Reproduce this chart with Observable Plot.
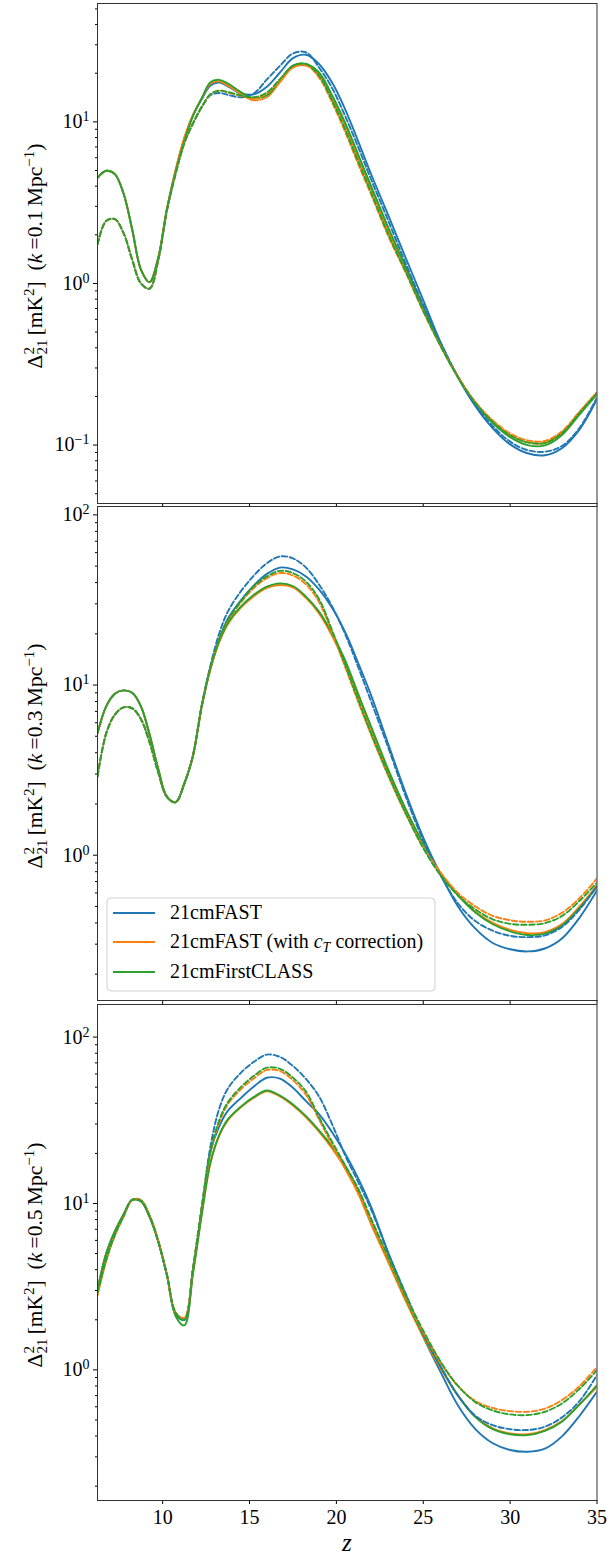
<!DOCTYPE html>
<html>
<head>
<meta charset="utf-8">
<script src="https://cdn.jsdelivr.net/npm/d3@7"></script>
<script src="https://cdn.jsdelivr.net/npm/@observablehq/plot@0.6"></script>
<style>
  body { margin: 0; background: white; }
  #chart svg { display: block; overflow: visible; }
</style>
</head>
<body>
<div id="chart"></div>
<script>
// ---- data ----
const z = [6.25,6.75,7.25,7.75,8.25,8.75,9.25,9.75,10.25,10.75,11.25,11.75,12.25,12.75,13.25,13.75,14.5,15.25,16,16.75,17.5,18.25,19,19.75,20.5,21.25,22,23,24,25,26,27,28,29,30,31,32,33,34,35];

const models = ["21cmFAST", "21cmFAST (with c_T correction)", "21cmFirstCLASS"];
const colors = ["#1f77b4", "#ff7f0e", "#2ca02c"];
const kValues = ["0.1", "0.3", "0.5"];
const xTicks = [10, 15, 20, 25, 30, 35];

// panel k = 0.1
const k01_fast_solid  = [4.5,4.98,4.75,3.6,2.15,1.22,1.02,1.45,2.9,5.0,7.9,11.0,13.8,16.8,17.5,16.6,15.0,14.8,16.5,20.2,24.8,26.0,22.8,17.5,12.0,7.6,4.74,2.62,1.43,0.79,0.43,0.262,0.174,0.127,0.101,0.089,0.0865,0.096,0.125,0.192];
const k01_corr_solid  = [4.5,4.98,4.75,3.6,2.15,1.22,1.02,1.45,2.9,5.1,8.0,11.1,14.0,17.2,17.8,16.8,14.9,13.6,14.2,17.6,21.7,22.3,19.5,14.0,9.5,6.0,3.85,2.1,1.2,0.7,0.41,0.264,0.183,0.14,0.115,0.104,0.103,0.12,0.16,0.21];
const k01_class_solid = [4.5,4.98,4.75,3.6,2.15,1.22,1.02,1.45,2.9,4.9,7.6,10.9,14.0,17.6,18.2,17.3,15.3,14.0,14.6,18.1,22.3,22.8,20.2,14.6,9.9,6.3,4.0,2.2,1.26,0.72,0.42,0.265,0.181,0.137,0.112,0.1,0.0995,0.116,0.155,0.206];
const k01_fast_dash   = [1.75,2.44,2.5,2.05,1.4,1.0,0.93,1.4,2.85,4.8,7.4,9.8,12.3,14.6,15.1,14.7,14.2,15.0,18.3,22.2,26.5,26.9,21.7,16.2,10.9,7.0,4.4,2.42,1.32,0.736,0.43,0.265,0.178,0.131,0.105,0.093,0.091,0.099,0.128,0.197];
const k01_corr_dash   = [1.75,2.44,2.5,2.05,1.4,1.0,0.93,1.4,2.85,4.8,7.4,9.8,12.4,14.8,15.6,15.2,14.5,14.0,15.0,18.0,21.8,22.5,18.8,13.2,8.7,5.5,3.55,1.95,1.16,0.67,0.41,0.264,0.185,0.142,0.118,0.107,0.106,0.122,0.161,0.213];
const k01_class_dash  = [1.75,2.44,2.5,2.05,1.4,1.0,0.93,1.4,2.85,4.8,7.4,9.8,12.4,14.8,15.6,15.3,14.6,14.2,15.2,18.4,22.2,22.8,19.3,13.6,9.0,5.7,3.65,2.0,1.18,0.68,0.41,0.262,0.182,0.139,0.115,0.104,0.103,0.119,0.158,0.21];

// panel k = 0.3
const k03_fast_solid  = [5.2,7.5,8.9,9.3,9.0,7.5,5.1,3.2,2.2,2.05,2.64,3.87,7.6,12.6,18.5,24.5,31.5,38.5,45,49,47.8,43.5,36.5,28.5,20.5,13.5,8.7,4.45,2.3,1.27,0.77,0.5,0.37,0.305,0.28,0.272,0.283,0.325,0.43,0.62];
const k03_corr_solid  = [5.2,7.5,8.9,9.3,9.0,7.5,5.1,3.2,2.2,2.05,2.64,3.87,7.5,12.4,17.8,22.8,28.5,33.3,37.2,38.7,37.5,32.5,26.3,19.5,13.5,8.6,5.5,3.05,1.82,1.15,0.78,0.585,0.465,0.4,0.364,0.348,0.353,0.395,0.5,0.665];
const k03_class_solid = [5.2,7.5,8.9,9.3,9.0,7.5,5.1,3.2,2.2,2.05,2.64,3.87,7.5,12.5,18.0,23.1,28.9,33.9,37.9,39.6,38.2,33.1,27.0,20.1,14.0,8.9,5.7,3.16,1.86,1.17,0.78,0.58,0.46,0.393,0.357,0.34,0.346,0.387,0.49,0.65];
const k03_fast_dash   = [2.9,5.2,6.7,7.4,7.3,6.3,4.6,3.05,2.2,2.05,2.64,3.87,7.6,13,20,27,35.5,44,52,57,55.5,49,39,29,20,12.8,8.0,4.25,2.2,1.22,0.76,0.52,0.41,0.36,0.336,0.33,0.338,0.38,0.48,0.66];
const k03_corr_dash   = [2.9,5.2,6.7,7.4,7.3,6.3,4.6,3.05,2.2,2.05,2.64,3.87,7.5,12.5,18.3,23.8,30.5,37.2,42.5,45.5,44,39,30.8,20.3,12.8,8.0,5.1,2.9,1.75,1.12,0.79,0.6,0.5,0.44,0.415,0.406,0.414,0.46,0.56,0.73];
const k03_class_dash  = [2.9,5.2,6.7,7.4,7.3,6.3,4.6,3.05,2.2,2.05,2.64,3.87,7.5,12.6,18.5,24.0,31.0,38.0,43.5,46.9,45.5,40.5,32.0,21.0,13.2,8.2,5.2,2.95,1.75,1.1,0.76,0.58,0.48,0.42,0.395,0.39,0.399,0.44,0.54,0.69];

// panel k = 0.5
const k05_fast_solid  = [3.0,5.0,6.8,8.6,10.5,10.3,8.3,5.9,3.7,2.15,2.0,4.0,9.0,20.5,29.0,36.0,43.0,50.5,57.0,56.3,49.6,41.2,34.4,26.8,20,14.2,9.55,5.0,2.8,1.58,0.97,0.61,0.44,0.362,0.33,0.322,0.336,0.4,0.53,0.74];
const k05_corr_solid  = [3.0,5.0,6.8,8.6,10.5,10.3,8.3,5.9,3.7,2.2,2.05,3.9,8.6,17.5,25.5,31.6,37.8,43.2,47.3,44.0,38.8,33.0,27.0,21.4,16.3,11.5,7.5,4.4,2.58,1.58,1.02,0.70,0.525,0.445,0.415,0.41,0.435,0.495,0.62,0.79];
const k05_class_solid = [3.0,5.0,6.8,8.6,10.5,10.3,8.3,5.9,3.7,2.1,1.85,3.8,8.6,17.6,25.7,32.0,38.2,43.7,47.8,44.5,39.4,33.5,27.5,22.0,16.8,11.9,7.8,4.56,2.66,1.62,1.04,0.70,0.52,0.44,0.41,0.405,0.43,0.49,0.62,0.81];
const k05_fast_dash   = [2.9,4.6,6.5,8.4,10.5,10.4,8.4,5.9,3.7,2.2,2.0,4.1,9.5,22,37,49,61,71,78.5,76,67,56,44,30,19.5,13.5,9.2,5.0,2.85,1.65,1.05,0.7,0.53,0.465,0.44,0.435,0.455,0.52,0.65,0.93];
const k05_corr_dash   = [2.8,4.5,6.4,8.3,10.5,10.5,8.5,6.0,3.7,2.2,2.05,4.1,9.5,20.0,30.5,39.5,48.5,56.5,63.5,62.5,55,45,32,22.5,16.2,11.6,7.8,4.6,2.7,1.68,1.1,0.8,0.65,0.59,0.565,0.56,0.585,0.66,0.8,1.04];
const k05_class_dash  = [2.9,4.6,6.5,8.4,10.5,10.4,8.4,5.9,3.7,2.2,2.0,4.1,9.5,20.5,31.5,40.5,50,58.5,65.5,64.5,57,47,33,23.5,17,12.3,8.1,4.75,2.78,1.72,1.12,0.8,0.64,0.57,0.54,0.535,0.56,0.63,0.77,0.995];

// ---- layout ----
const serif = "'Liberation Serif', 'DejaVu Serif', serif";
const W = 607, ML = 97, MR = 10.5;

const panels = [
  {k: kValues[0], solid: [k01_fast_solid, k01_corr_solid, k01_class_solid], dash: [k01_fast_dash, k01_corr_dash, k01_class_dash],
   domain: [0.0435, 54], majors: [0.1, 1, 10],
   minors: [0.05,0.06,0.07,0.08,0.09,0.2,0.3,0.4,0.5,0.6,0.7,0.8,0.9,2,3,4,5,6,7,8,9,20,30,40,50],
   height: 505, mt: 3, mb: 2, bottom: false},
  {k: kValues[1], solid: [k03_fast_solid, k03_corr_solid, k03_class_solid], dash: [k03_fast_dash, k03_corr_dash, k03_class_dash],
   domain: [0.14, 112], majors: [1, 10, 100],
   minors: [0.2,0.3,0.4,0.5,0.6,0.7,0.8,0.9,2,3,4,5,6,7,8,9,20,30,40,50,60,70,80,90],
   height: 498, mt: 1, mb: 3, bottom: false, legend: true},
  {k: kValues[2], solid: [k05_fast_solid, k05_corr_solid, k05_class_solid], dash: [k05_fast_dash, k05_corr_dash, k05_class_dash],
   domain: [0.164, 157], majors: [1, 10, 100],
   minors: [0.2,0.3,0.4,0.5,0.6,0.7,0.8,0.9,2,3,4,5,6,7,8,9,20,30,40,50,60,70,80,90],
   height: 554, mt: 1, mb: 57, bottom: true}
];

function rows(vals) { return z.map((zz, i) => ({z: zz, v: vals[i]})); }

const chart = document.getElementById("chart");

panels.forEach((p) => {
  const lineMarks = [];
  p.solid.forEach((vals, i) => lineMarks.push(
    Plot.line(rows(vals), {x: "z", y: "v", stroke: colors[i], strokeWidth: 1.9, curve: "catmull-rom", clip: true})));
  p.dash.forEach((vals, i) => lineMarks.push(
    Plot.line(rows(vals), {x: "z", y: "v", stroke: colors[i], strokeWidth: 1.9, strokeDasharray: "5.5,2.6", curve: "catmull-rom", clip: true})));

  const svg = Plot.plot({
    width: W, height: p.height,
    marginLeft: ML, marginRight: MR, marginTop: p.mt, marginBottom: p.mb,
    style: {fontFamily: serif, fontSize: "20px", color: "#000", background: "white", overflow: "visible"},
    x: {domain: [6.25, 35], label: null},
    y: {type: "log", domain: p.domain, label: null},
    marks: [
      ...lineMarks,
      Plot.axisX({ticks: xTicks, tickSize: 4, tickPadding: 5, label: null,
                  tickFormat: p.bottom ? (d => String(d)) : (() => "")}),
      Plot.axisY({ticks: p.majors, tickSize: 4, tickPadding: 4, label: null,
                  tickFormat: d => "10^" + Math.round(Math.log10(d))}),
      Plot.axisY({ticks: p.minors, tickSize: 2, label: null, tickFormat: () => ""}),
      Plot.frame({stroke: "#333", strokeWidth: 1})
    ]
  });

  const s = d3.select(svg);
  // superscript exponents in tick labels
  s.selectAll("text").each(function () {
    const t = this.textContent;
    if (t.includes("^")) {
      const [b, e] = t.split("^");
      this.textContent = "";
      const sel = d3.select(this);
      sel.append("tspan").text(b);
      sel.append("tspan").attr("dy", "-0.5em").attr("font-size", "14px").text(e.replace("-", "−"));
    }
  });

  // y label
  const cy = p.mt + (p.height - p.mt - p.mb) / 2 + 3;
  const t = s.append("text")
    .attr("transform", `translate(42,${cy}) rotate(-90)`)
    .attr("text-anchor", "middle")
    .attr("font-family", serif).attr("font-size", "21.5px").attr("fill", "#000");
  t.append("tspan").text("Δ");
  t.append("tspan").attr("dy", -8).attr("font-size", "15px").text("2");
  t.append("tspan").attr("dx", -7.5).attr("dy", 13).attr("font-size", "15px").text("21");
  t.append("tspan").attr("dy", -5).text("\u2009[mK");
  t.append("tspan").attr("dy", -8).attr("font-size", "15px").text("2");
  t.append("tspan").attr("dy", 8).text("]\u2002(");
  t.append("tspan").attr("font-style", "italic").text("k");
  t.append("tspan").text("\u2009=" + p.k + "\u2009Mpc");
  t.append("tspan").attr("dy", -8).attr("font-size", "15px").text("−1");
  t.append("tspan").attr("dy", 8).text(")");

  if (p.legend) {
    const g = s.append("g");
    g.append("rect").attr("x", 107).attr("y", 393).attr("width", 328).attr("height", 93)
      .attr("rx", 4).attr("fill", "white").attr("fill-opacity", 0.85).attr("stroke", "#d0d0d0");
    const ys = [408, 437, 467];
    models.forEach((m, i) => {
      g.append("line").attr("x1", 113).attr("x2", 155).attr("y1", ys[i]).attr("y2", ys[i])
        .attr("stroke", colors[i]).attr("stroke-width", 1.9);
      const tx = g.append("text").attr("x", 170).attr("y", ys[i] + 6)
        .attr("text-anchor", "start")
        .attr("font-family", serif).attr("font-size", "20px").attr("fill", "#000");
      if (m.includes("c_T")) {
        tx.append("tspan").text("21cmFAST (with ");
        tx.append("tspan").attr("font-style", "italic").text("c");
        tx.append("tspan").attr("font-style", "italic").attr("font-size", "14px").attr("dy", 4).text("T");
        tx.append("tspan").attr("dy", -4).text(" correction)");
      } else {
        tx.text(m);
      }
    });
  }

  if (p.bottom) {
    s.append("text").attr("x", (ML + W - MR) / 2).attr("y", 548)
      .attr("text-anchor", "middle").attr("font-family", serif)
      .attr("font-style", "italic").attr("font-size", "25px").attr("fill", "#000").text("z");
  }

  chart.appendChild(svg);
});
</script>
</body>
</html>
